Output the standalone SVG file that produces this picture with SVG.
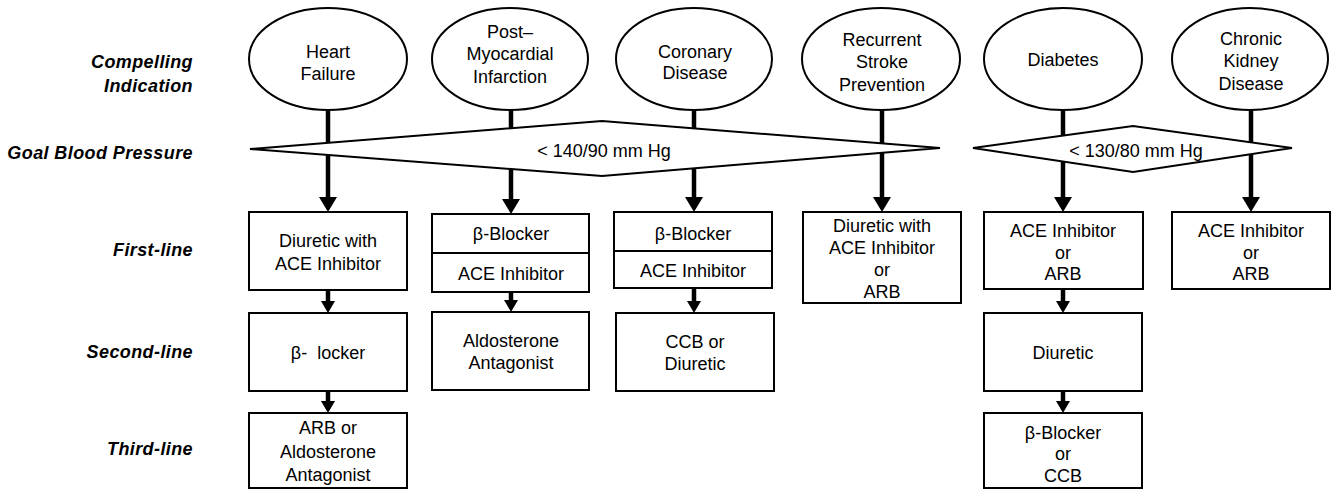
<svg xmlns="http://www.w3.org/2000/svg" width="1332" height="490" viewBox="0 0 1332 490">
  <style>
    .bg { fill: #ffffff; }
    .shape { fill: #ffffff; stroke: #000000; stroke-width: 2; }
    .edge { fill: none; stroke: #000000; stroke-width: 4.5; }
    .divider { stroke: #000000; stroke-width: 2; }
    .txt { font-family: "Liberation Sans", Arial, sans-serif; font-size: 18px; fill: #000000; text-anchor: middle; }
    .lbl { font-family: "Liberation Sans", Arial, sans-serif; font-size: 18px; font-weight: bold; font-style: italic; fill: #000000; text-anchor: end; letter-spacing: 0.4px; }
  </style>
  <defs>
    <marker id="ah-lg" viewBox="0 0 15 18" refX="9" refY="9" markerWidth="15" markerHeight="18" markerUnits="userSpaceOnUse" orient="auto">
      <path d="M0,0 L15,9 L0,18 z" fill="#000000"/>
    </marker>
    <marker id="ah-sm" viewBox="0 0 12 14" refX="6" refY="7" markerWidth="12" markerHeight="14" markerUnits="userSpaceOnUse" orient="auto">
      <path d="M0,0 L12,7 L0,14 z" fill="#000000"/>
    </marker>
  </defs>

  <rect class="bg" x="0" y="0" width="1332" height="490"/>

  <!-- Row labels -->
  <g id="row-labels">
    <text class="lbl" x="193" y="68">Compelling</text>
    <text class="lbl" x="193" y="92">Indication</text>
    <text class="lbl" x="193" y="159">Goal Blood Pressure</text>
    <text class="lbl" x="193" y="256">First-line</text>
    <text class="lbl" x="193" y="358">Second-line</text>
    <text class="lbl" x="193" y="455">Third-line</text>
  </g>

  <!-- Connectors (drawn first so the goal diamonds sit on top) -->
  <g id="connectors">
    <line class="edge" x1="328" y1="110" x2="328" y2="206" marker-end="url(#ah-lg)"/>
    <line class="edge" x1="511" y1="110" x2="511" y2="208" marker-end="url(#ah-lg)"/>
    <line class="edge" x1="694" y1="110" x2="694" y2="206" marker-end="url(#ah-lg)"/>
    <line class="edge" x1="882" y1="110" x2="882" y2="206" marker-end="url(#ah-lg)"/>
    <line class="edge" x1="1063" y1="110" x2="1063" y2="206" marker-end="url(#ah-lg)"/>
    <line class="edge" x1="1251" y1="110" x2="1251" y2="206" marker-end="url(#ah-lg)"/>

    <line class="edge" x1="328" y1="290" x2="328" y2="307" marker-end="url(#ah-sm)"/>
    <line class="edge" x1="328" y1="391" x2="328" y2="407" marker-end="url(#ah-sm)"/>
    <line class="edge" x1="511" y1="292" x2="511" y2="306" marker-end="url(#ah-sm)"/>
    <line class="edge" x1="694" y1="288" x2="694" y2="307" marker-end="url(#ah-sm)"/>
    <line class="edge" x1="1063" y1="289" x2="1063" y2="307" marker-end="url(#ah-sm)"/>
    <line class="edge" x1="1063" y1="391" x2="1063" y2="407" marker-end="url(#ah-sm)"/>
  </g>

  <!-- Compelling indications -->
  <g id="ind-heart-failure">
    <ellipse class="shape" cx="328" cy="59" rx="79" ry="51"/>
    <text class="txt" x="328" y="58">Heart</text>
    <text class="txt" x="328" y="80">Failure</text>
  </g>
  <g id="ind-post-mi">
    <ellipse class="shape" cx="510" cy="59" rx="78" ry="51"/>
    <text class="txt" x="510" y="38">Post–</text>
    <text class="txt" x="510" y="60">Myocardial</text>
    <text class="txt" x="510" y="83">Infarction</text>
  </g>
  <g id="ind-coronary">
    <ellipse class="shape" cx="694" cy="59" rx="78" ry="51"/>
    <text class="txt" x="695" y="58">Coronary</text>
    <text class="txt" x="695" y="79">Disease</text>
  </g>
  <g id="ind-stroke">
    <ellipse class="shape" cx="881" cy="59" rx="79" ry="51"/>
    <text class="txt" x="882" y="46">Recurrent</text>
    <text class="txt" x="882" y="68">Stroke</text>
    <text class="txt" x="882" y="91">Prevention</text>
  </g>
  <g id="ind-diabetes">
    <ellipse class="shape" cx="1063" cy="59" rx="79" ry="51"/>
    <text class="txt" x="1063" y="66">Diabetes</text>
  </g>
  <g id="ind-ckd">
    <ellipse class="shape" cx="1250" cy="59" rx="78" ry="51"/>
    <text class="txt" x="1251" y="45">Chronic</text>
    <text class="txt" x="1251" y="67">Kidney</text>
    <text class="txt" x="1251" y="90">Disease</text>
  </g>

  <!-- Goal blood pressure -->
  <g id="goal-140-90">
    <polygon class="shape" points="250,149 602,121 940,148 602,176"/>
    <text class="txt" x="604" y="157">&lt; 140/90 mm Hg</text>
  </g>
  <g id="goal-130-80">
    <polygon class="shape" points="973,148 1133,126 1292,148 1133,172"/>
    <text class="txt" x="1136" y="157">&lt; 130/80 mm Hg</text>
  </g>

  <!-- Heart failure therapy -->
  <g id="hf-first">
    <rect class="shape" x="249" y="212" width="158" height="78"/>
    <text class="txt" x="328" y="247">Diuretic with</text>
    <text class="txt" x="328" y="270">ACE Inhibitor</text>
  </g>
  <g id="hf-second">
    <rect class="shape" x="249" y="313" width="158" height="78"/>
    <text class="txt" x="328" y="359" xml:space="preserve">β-  locker</text>
  </g>
  <g id="hf-third">
    <rect class="shape" x="249" y="413" width="158" height="75"/>
    <text class="txt" x="328" y="434">ARB or</text>
    <text class="txt" x="328" y="458">Aldosterone</text>
    <text class="txt" x="328" y="481">Antagonist</text>
  </g>

  <!-- Post-myocardial infarction therapy -->
  <g id="mi-first">
    <rect class="shape" x="432" y="214" width="157" height="78"/>
    <line class="divider" x1="432" y1="253" x2="589" y2="253"/>
    <text class="txt" x="511" y="240">β-Blocker</text>
    <text class="txt" x="511" y="280">ACE Inhibitor</text>
  </g>
  <g id="mi-second">
    <rect class="shape" x="432" y="312" width="157" height="78"/>
    <text class="txt" x="511" y="347">Aldosterone</text>
    <text class="txt" x="511" y="369">Antagonist</text>
  </g>

  <!-- Coronary disease therapy -->
  <g id="cad-first">
    <rect class="shape" x="614" y="212" width="158" height="76"/>
    <line class="divider" x1="614" y1="251" x2="772" y2="251"/>
    <text class="txt" x="693" y="240">β-Blocker</text>
    <text class="txt" x="693" y="277">ACE Inhibitor</text>
  </g>
  <g id="cad-second">
    <rect class="shape" x="616" y="313" width="158" height="78"/>
    <text class="txt" x="695" y="348">CCB or</text>
    <text class="txt" x="695" y="370">Diuretic</text>
  </g>

  <!-- Recurrent stroke prevention therapy -->
  <g id="stroke-first">
    <rect class="shape" x="803" y="212" width="158" height="91"/>
    <text class="txt" x="882" y="232">Diuretic with</text>
    <text class="txt" x="882" y="254">ACE Inhibitor</text>
    <text class="txt" x="882" y="276">or</text>
    <text class="txt" x="882" y="298">ARB</text>
  </g>

  <!-- Diabetes therapy -->
  <g id="dm-first">
    <rect class="shape" x="984" y="212" width="159" height="77"/>
    <text class="txt" x="1063" y="237">ACE Inhibitor</text>
    <text class="txt" x="1063" y="259">or</text>
    <text class="txt" x="1063" y="280">ARB</text>
  </g>
  <g id="dm-second">
    <rect class="shape" x="984" y="313" width="158" height="78"/>
    <text class="txt" x="1063" y="359">Diuretic</text>
  </g>
  <g id="dm-third">
    <rect class="shape" x="984" y="413" width="158" height="75"/>
    <text class="txt" x="1063" y="439">β-Blocker</text>
    <text class="txt" x="1063" y="460">or</text>
    <text class="txt" x="1063" y="482">CCB</text>
  </g>

  <!-- Chronic kidney disease therapy -->
  <g id="ckd-first">
    <rect class="shape" x="1172" y="212" width="158" height="77"/>
    <text class="txt" x="1251" y="237">ACE Inhibitor</text>
    <text class="txt" x="1251" y="259">or</text>
    <text class="txt" x="1251" y="280">ARB</text>
  </g>
</svg>
